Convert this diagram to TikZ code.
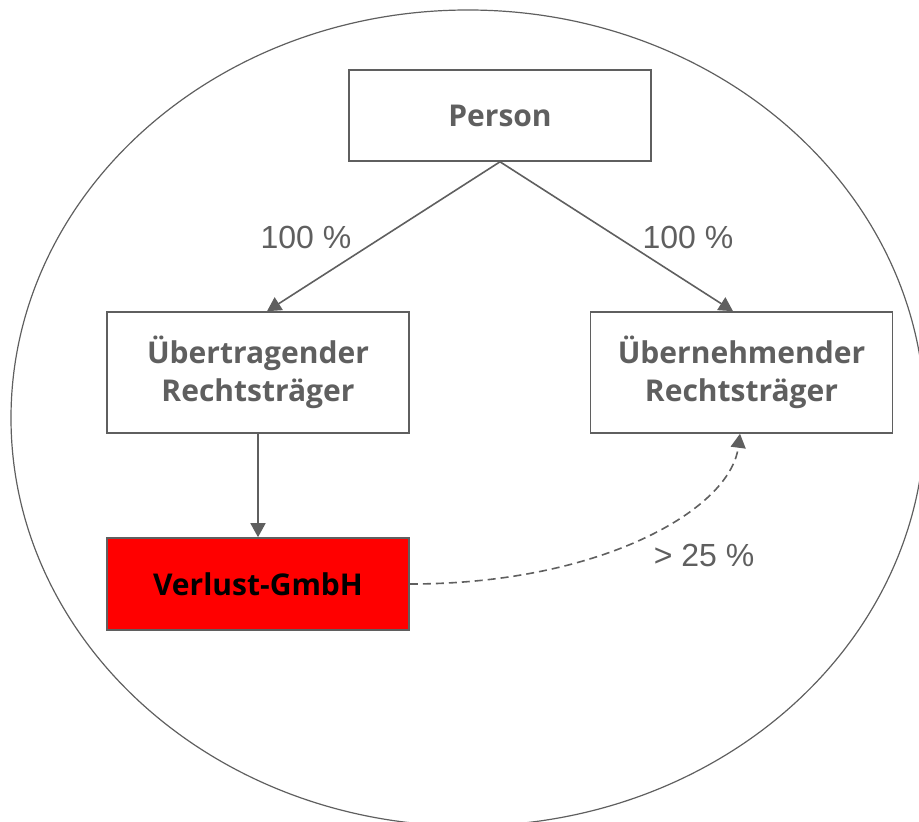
\documentclass[tikz,border=0pt]{standalone}
\usepackage{fontspec}
\setmainfont{Liberation Sans}
\newfontfamily\boxfont{Open Sans}
\usetikzlibrary{arrows.meta}
\definecolor{linegray}{RGB}{95,95,95}
\definecolor{lossred}{RGB}{255,0,0}

\begin{document}
\begin{tikzpicture}[x=0.5pt,y=-0.5pt,
	box/.style={draw=linegray, line width=0.8pt, rectangle, minimum width=151pt, inner sep=0pt, align=center, text=linegray, font=\boxfont\bfseries\fontsize{15}{19}\selectfont},
	pfeil/.style={draw=linegray, line width=0.8pt, -{Triangle[length=7pt,width=7.5pt]}},
	anteil/.style={text=linegray, font=\fontsize{16}{18}\selectfont, inner sep=0pt}]
			\useasboundingbox (0,0) rectangle (919,822);
			\draw[linegray, line width=0.6pt] (468,418) ellipse [x radius=228.5pt, y radius=204pt];
			
			\node(person) [box, minimum height=45.5pt] at (500,115.5){Person};
			\node(uebertragend) [box, minimum height=60.5pt] at (258,372.5){Übertragender\\Rechtsträger};
			\node(uebernehmend) [box, minimum height=60.5pt] at (741.5,372.5){Übernehmender\\Rechtsträger};
			\node(verlust) [box, fill=lossred, text=black, minimum height=46pt] at (258,584){Verlust-GmbH};
			
			\draw[pfeil] (person.south) -- ([xshift=4.5pt]uebertragend.north);
			\draw[pfeil] (person.south) -- ([xshift=-4.25pt]uebernehmend.north);
			\draw[pfeil] (uebertragend.south) -- (verlust.north);
			\draw[pfeil, dash pattern=on 4pt off 2.5pt] (verlust.east) .. controls (600,584) and (730,510) .. ([xshift=-0.75pt]uebernehmend.south);
			
			\node(l1) [anteil] at (306,237){100 \%};
			\node(l2) [anteil] at (688,237){100 \%};
			\node(l3) [anteil] at (704,555){> 25 \%};
		\end{tikzpicture}
\end{document}
